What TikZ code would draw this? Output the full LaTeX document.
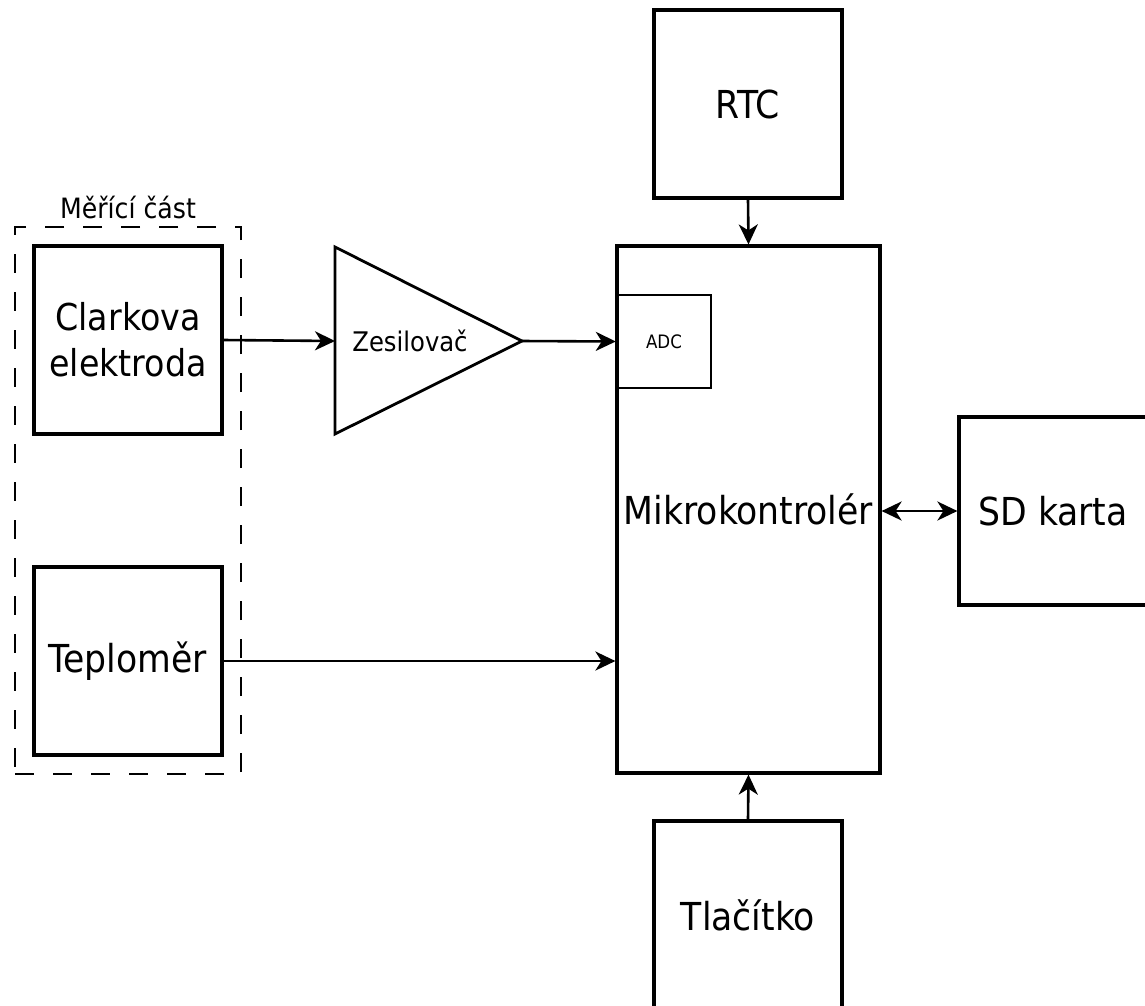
\documentclass[tikz,border=0pt]{standalone}
\usepackage{fontspec}
\setmainfont{DejaVu Sans Condensed}
\usetikzlibrary{arrows.meta}
\tikzset{
	>={Stealth[length=20pt,width=19pt,inset=6pt]},
	block/.style={draw, line width=3.2pt, minimum width=188pt, minimum height=188pt, inner sep=0pt, align=center, font=\fontsize{38.5}{46}\selectfont},
	conn/.style={->, line width=2.6pt}
}

\begin{document}
\begin{tikzpicture}[x=1pt, y=-1pt]
	\useasboundingbox (0,0) rectangle (1145,1005);
	% measuring part
	\node[draw, line width=2.4pt, dash pattern=on 19pt off 19pt, minimum width=226pt, minimum height=547pt, inner sep=0pt] (mer) at (128,500.5) {};
	\node[font=\fontsize{28}{32}\selectfont] (merlabel) at (128,207) {Měřící část};
	\node[block, font=\fontsize{37}{46}\selectfont] (clark) at (128,340) {Clarkova\\elektroda};
	\node[block] (tep) at (128,661) {Teploměr};
	% amplifier
	\draw[line width=2.8pt, line join=miter] (335,247) -- (522,341) -- (335,434) -- cycle;
	\coordinate (zin) at (335,341);
	\coordinate (zout) at (522,341);
	\node[font=\fontsize{27}{32}\selectfont] (zes) at (410,341) {Zesilovač};
	% controller and periphery
	\node[block, minimum width=263pt, minimum height=527pt] (mikro) at (748.5,509.5) {Mikrokontrolér};
	\node[draw, line width=2.4pt, minimum width=94pt, minimum height=93pt, inner sep=0pt, font=\fontsize{18.5}{22}\selectfont] (adc) at (664,341.5) {ADC};
	\node[block] (rtc) at (748,104) {RTC};
	\node[block] (tl) at (748,915) {Tlačítko};
	\node[block] (sd) at (1053,511) {SD karta};
	% connections
	\draw[conn] (clark.east) -- (zin);
	\draw[conn] (zout) -- (adc.west);
	\draw[conn] (tep.east) -- (tep.east -| mikro.west);
	\draw[conn] (rtc.south) -- (mikro.north);
	\draw[conn] (tl.north) -- (mikro.south);
	\draw[conn, <->] (mikro.east |- sd.west) -- (sd.west);
\end{tikzpicture}
\end{document}
